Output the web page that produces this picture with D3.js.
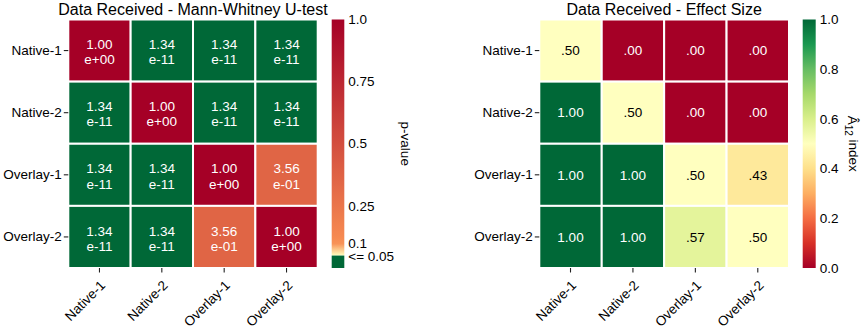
<!DOCTYPE html>
<html>
<head>
<meta charset="utf-8">
<script src="https://cdn.jsdelivr.net/npm/d3@7"></script>
<style>
  html, body { margin: 0; padding: 0; background: #fff; }
  svg { display: block; font-family: "Liberation Sans", Arial, sans-serif; }
</style>
</head>
<body>
<svg id="chart" width="861" height="329"></svg>
<script>
// Groups compared in both matrices
const groups = ["Native-1", "Native-2", "Overlay-1", "Overlay-2"];

// Mann-Whitney U-test p-values (row vs column)
const pValues = [
  [1.00e+00, 1.34e-11, 1.34e-11, 1.34e-11],
  [1.34e-11, 1.00e+00, 1.34e-11, 1.34e-11],
  [1.34e-11, 1.34e-11, 1.00e+00, 3.56e-01],
  [1.34e-11, 1.34e-11, 3.56e-01, 1.00e+00]
];

// Vargha-Delaney A12 effect sizes (row vs column)
const effectSizes = [
  [0.50, 0.00, 0.00, 0.00],
  [1.00, 0.50, 0.00, 0.00],
  [1.00, 1.00, 0.50, 0.43],
  [1.00, 1.00, 0.57, 0.50]
];

const pTicks = [1.0, 0.75, 0.5, 0.25, 0.1];
const pTickLabels = ["1.0", "0.75", "0.5", "0.25", "0.1"];
const pThreshold = 0.05;
const pThresholdLabel = "<= 0.05";
const effectTicks = [0.0, 0.2, 0.4, 0.6, 0.8, 1.0];

const svg = d3.select("#chart");
const FONT = 13.5;

// p-value colour map: significant values green, others yellow -> orange -> red
const sigGreen = "#006837";
const pColor = d3.scaleLinear()
  .domain([0.05, 0.1, 1.0])
  .range(["#ffffbf", "#f88d52", "#a50026"])
  .interpolate(d3.interpolateRgb)
  .clamp(true);
const pFill = v => v <= pThreshold ? sigGreen : pColor(v);

// Effect size colour map: piecewise-linear RdYlGn
const rdylgn = d3.schemeRdYlGn[11];
const effColor = d3.scaleLinear()
  .domain(d3.range(11).map(i => i / 10))
  .range(rdylgn)
  .interpolate(d3.interpolateRgb);

function fmtExp(v) {
  const s = v.toExponential(2);         // e.g. "1.34e-11"
  const [m, e] = s.split("e");
  const sign = e[0] === "-" ? "-" : "+";
  const digits = e.replace(/[+-]/, "").padStart(2, "0");
  return [m, "e" + sign + digits];
}
function fmtEff(v) {
  const s = v.toFixed(2);
  return s.startsWith("0") ? s.slice(1) : s;
}

function heatmap(opts) {
  const { x0, x1, y0, y1, data, fill, title, cellText } = opts;
  const g = svg.append("g");
  const x = d3.scaleBand().domain(groups).range([x0, x1]);
  const y = d3.scaleBand().domain(groups).range([y0, y1]);

  const cells = [];
  data.forEach((row, i) => row.forEach((v, j) => cells.push({ r: groups[i], c: groups[j], v })));

  g.selectAll("rect.cell").data(cells).join("rect")
    .attr("class", "cell")
    .attr("x", d => x(d.c))
    .attr("y", d => y(d.r))
    .attr("width", x.bandwidth())
    .attr("height", y.bandwidth())
    .attr("fill", d => fill(d.v))
    .attr("stroke", "#fff")
    .attr("stroke-width", 2);

  const labels = g.selectAll("text.val").data(cells).join("text")
    .attr("class", "val")
    .attr("x", d => x(d.c) + x.bandwidth() / 2)
    .attr("y", d => y(d.r) + y.bandwidth() / 2)
    .attr("text-anchor", "middle")
    .attr("font-size", FONT);
  cellText(labels);

  // Axes
  const yAxis = g.append("g")
    .attr("transform", `translate(${x0},0)`)
    .call(d3.axisLeft(y).tickSize(4.5).tickPadding(2));
  const xAxis = g.append("g")
    .attr("transform", `translate(0,${y1})`)
    .call(d3.axisBottom(x).tickSize(4.5).tickPadding(2));
  [yAxis, xAxis].forEach(a => {
    a.select(".domain").remove();
    a.selectAll(".tick line").attr("stroke", "#222").attr("stroke-width", 1.1);
    a.selectAll(".tick text").attr("font-size", FONT).attr("fill", "#000")
      .style("font-family", "\"Liberation Sans\", Arial, sans-serif");
  });
  xAxis.selectAll(".tick text")
    .attr("y", 0).attr("dy", "0.75em")
    .attr("text-anchor", "end")
    .attr("transform", "translate(-0.5,11) rotate(-45)");

  g.append("text")
    .attr("x", (x0 + x1) / 2)
    .attr("y", 14.5)
    .attr("text-anchor", "middle")
    .attr("font-size", 16)
    .text(title);
}

// Left: p-values
heatmap({
  x0: 68.3, x1: 317.7, y0: 19.5, y1: 268,
  data: pValues, fill: pFill,
  title: "Data Received - Mann-Whitney U-test",
  cellText: sel => {
    sel.attr("fill", "#fff").each(function (d) {
      const [a, b] = fmtExp(d.v);
      const t = d3.select(this);
      t.append("tspan").attr("x", t.attr("x")).attr("dy", "-0.1em").text(a);
      t.append("tspan").attr("x", t.attr("x")).attr("dy", "1.12em").text(b);
    });
  }
});

// Right: effect sizes
heatmap({
  x0: 539.3, x1: 789, y0: 19.5, y1: 268,
  data: effectSizes, fill: v => effColor(v),
  title: "Data Received - Effect Size",
  cellText: sel => {
    sel.attr("dy", "0.35em")
      .attr("fill", d => (d.v >= 0.8 || d.v <= 0.2) ? "#fff" : "#000")
      .text(d => fmtEff(d.v));
  }
});

const defs = svg.append("defs");

// p-value colour bar
{
  const cbX = 331.7, cbW = 12.6;
  const s = d3.scaleLinear().domain([0, 1]).range([268, 19.5]);
  const grad = defs.append("linearGradient").attr("id", "pgrad")
    .attr("x1", 0).attr("y1", 1).attr("x2", 0).attr("y2", 0);
  const stops = d3.range(0, 41).map(i => pThreshold + (1 - pThreshold) * i / 40);
  stops.push(0.06, 0.07, 0.08, 0.09);
  stops.sort((a, b) => a - b);
  grad.selectAll("stop").data(stops).join("stop")
    .attr("offset", d => (d - pThreshold) / (1 - pThreshold))
    .attr("stop-color", d => pColor(d));
  svg.append("rect")
    .attr("x", cbX).attr("y", s(1)).attr("width", cbW).attr("height", s(pThreshold) - s(1))
    .attr("fill", "url(#pgrad)");
  svg.append("rect")
    .attr("x", cbX).attr("y", s(pThreshold)).attr("width", cbW).attr("height", s(0) - s(pThreshold))
    .attr("fill", sigGreen);
  svg.selectAll("text.ptick").data(pTicks).join("text")
    .attr("class", "ptick")
    .attr("x", cbX + cbW + 4)
    .attr("y", d => s(d))
    .attr("dy", "0.35em")
    .attr("font-size", FONT)
    .text((d, i) => pTickLabels[i]);
  svg.append("text")
    .attr("x", cbX + cbW + 4).attr("y", s(pThreshold)).attr("dy", "0.4em")
    .attr("font-size", FONT).text(pThresholdLabel);
  svg.append("text")
    .attr("transform", `translate(401,${(s(0) + s(1)) / 2}) rotate(90)`)
    .attr("text-anchor", "middle")
    .attr("font-size", FONT)
    .text("p-value");
}

// Effect size colour bar
{
  const cbX = 802.7, cbW = 13;
  const s = d3.scaleLinear().domain([0, 1]).range([268, 19.5]);
  const grad = defs.append("linearGradient").attr("id", "egrad")
    .attr("x1", 0).attr("y1", 1).attr("x2", 0).attr("y2", 0);
  grad.selectAll("stop").data(d3.range(11).map(i => i / 10)).join("stop")
    .attr("offset", d => d)
    .attr("stop-color", d => effColor(d));
  svg.append("rect")
    .attr("x", cbX).attr("y", s(1)).attr("width", cbW).attr("height", s(0) - s(1))
    .attr("fill", "url(#egrad)");
  svg.selectAll("text.etick").data(effectTicks).join("text")
    .attr("class", "etick")
    .attr("x", cbX + cbW + 4)
    .attr("y", d => s(d))
    .attr("dy", "0.35em")
    .attr("font-size", FONT)
    .text(d => d.toFixed(1));
  const lab = svg.append("text")
    .attr("transform", `translate(848,${(s(0) + s(1)) / 2}) rotate(90)`)
    .attr("text-anchor", "middle")
    .attr("font-size", FONT);
  lab.append("tspan").text("Â");
  lab.append("tspan").attr("font-size", 10).attr("dy", "0.3em").text("12");
  lab.append("tspan").attr("dy", "-0.3em").text(" index");
}
</script>
</body>
</html>
